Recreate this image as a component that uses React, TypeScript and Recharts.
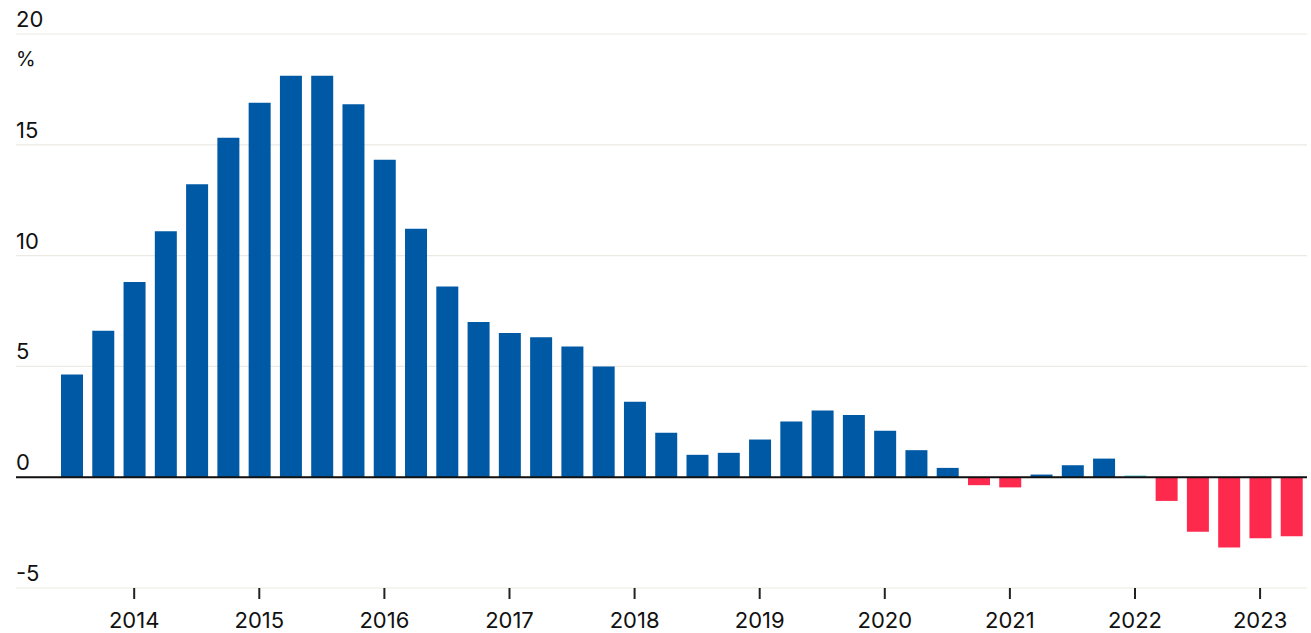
import React from 'react';
import {
  BarChart,
  Bar,
  Cell,
  XAxis,
  YAxis,
  CartesianGrid,
  ReferenceLine,
} from 'recharts';

// quarterly change, %, 2013 Q3 - 2023 Q2
const quarters = [
  '2013 Q3', '2013 Q4',
  '2014 Q1', '2014 Q2', '2014 Q3', '2014 Q4',
  '2015 Q1', '2015 Q2', '2015 Q3', '2015 Q4',
  '2016 Q1', '2016 Q2', '2016 Q3', '2016 Q4',
  '2017 Q1', '2017 Q2', '2017 Q3', '2017 Q4',
  '2018 Q1', '2018 Q2', '2018 Q3', '2018 Q4',
  '2019 Q1', '2019 Q2', '2019 Q3', '2019 Q4',
  '2020 Q1', '2020 Q2', '2020 Q3', '2020 Q4',
  '2021 Q1', '2021 Q2', '2021 Q3', '2021 Q4',
  '2022 Q1', '2022 Q2', '2022 Q3', '2022 Q4',
  '2023 Q1', '2023 Q2',
];

const values = [
  4.63, 6.61,
  8.81, 11.1, 13.22, 15.32,
  16.9, 18.12, 18.12, 16.83,
  14.32, 11.21, 8.61, 7.0,
  6.51, 6.31, 5.9, 5.0,
  3.4, 2.01, 1.01, 1.1,
  1.7, 2.51, 3.01, 2.81,
  2.1, 1.22, 0.42, -0.36,
  -0.46, 0.12, 0.54, 0.84,
  0.08, -1.07, -2.46, -3.17,
  -2.76, -2.66,
];

const yearTicks = [
  '2014 Q1', '2015 Q1', '2016 Q1', '2017 Q1', '2018 Q1',
  '2019 Q1', '2020 Q1', '2021 Q1', '2022 Q1', '2023 Q1',
];

const yTicks = [-5, 0, 5, 10, 15, 20];

const data = quarters.map((q, i) => ({ q, value: values[i] }));

const FONT = 'Inter, "Noto Sans", sans-serif';
const BLUE = '#0059a5';
const RED = '#fe2a4e';
const TEAL = '#6ccfdd';

const barColor = (v: number) => (v < 0 ? RED : v < 0.1 ? TEAL : BLUE);

const YTick = (props: any) => {
  const { y, payload } = props;
  return (
    <g>
      <text x={16} y={y - 7} fill='#111' fontSize={22} fontFamily={FONT} textAnchor='start'>
        {payload.value}
      </text>
      {payload.value === 20 && (
        <text x={16} y={y + 32} fill='#111' fontSize={20} fontFamily={FONT} textAnchor='start'>
          %
        </text>
      )}
    </g>
  );
};

const App = () => (
  <div style={{ position: 'absolute', left: 0, top: 0, background: '#fff' }}>
    <BarChart
      width={1311}
      height={633}
      data={data}
      margin={{ top: 34, right: 4, left: 15, bottom: 0 }}
    >
      <CartesianGrid vertical={false} stroke='#ebe9e3' strokeWidth={1.2} />
      <XAxis
        dataKey='q'
        ticks={yearTicks}
        tickFormatter={(v: string) => v.slice(0, 4)}
        interval={0}
        padding={{ left: 40, right: 0 }}
        height={45}
        axisLine={false}
        tickSize={11}
        tickMargin={13}
        tickLine={{ stroke: '#222', strokeWidth: 2 }}
        tick={{ fill: '#111', fontSize: 22, fontFamily: FONT }}
      />
      <YAxis
        width={1}
        domain={[-5, 20]}
        ticks={yTicks}
        axisLine={false}
        tickLine={false}
        tick={YTick}
        interval={0}
      />
      <Bar dataKey='value' barSize={22} isAnimationActive={false}>
        {data.map((d) => (
          <Cell key={d.q} fill={barColor(d.value)} />
        ))}
      </Bar>
      <ReferenceLine y={0} stroke='#111' strokeWidth={2} />
    </BarChart>
  </div>
);

export default App;
